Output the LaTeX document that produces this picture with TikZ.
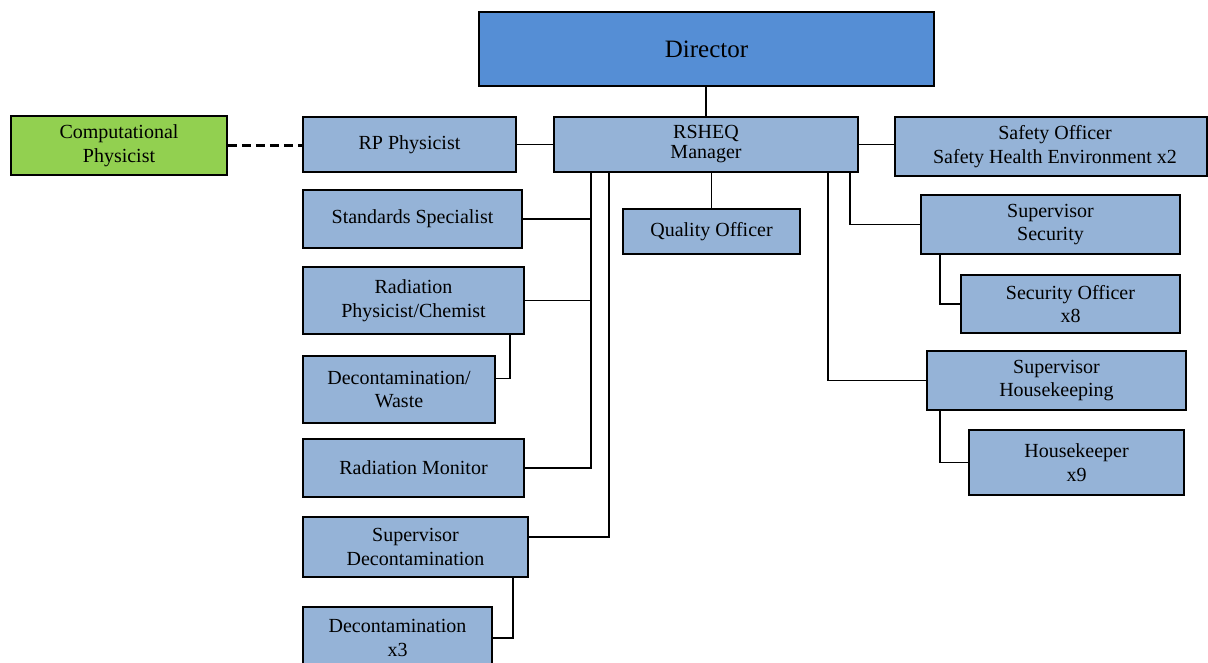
\documentclass[tikz,border=0pt]{standalone}
\usepackage{fontspec}
\setmainfont{Liberation Serif}
\definecolor{dirblue}{RGB}{85,142,213}
\definecolor{boxblue}{RGB}{149,179,215}
\definecolor{boxgreen}{RGB}{146,208,80}
\begin{document}
\begin{tikzpicture}[x=1pt,y=-1pt,
  box/.style={draw=black, line width=1.8pt, fill=boxblue, rectangle, inner sep=0pt, align=center,
    font=\fontsize{20}{23.5}\selectfont},
  link/.style={draw=black, line width=1.8pt}]
\useasboundingbox (0,0) rectangle (1208,663);
\clip (0,0) rectangle (1208,663);
\node[box, fill=dirblue, minimum width=455pt, minimum height=74pt, font=\fontsize{25}{28}\selectfont] (dir) at (706.5,49) {Director};
\node[box, minimum width=304pt, minimum height=55pt, font=\fontsize{20}{20}\selectfont] (rsheq) at (706,144.5) {RSHEQ\\Manager};
\node[box, minimum width=213pt, minimum height=55pt] (rp) at (409.5,144.5) {RP Physicist};
\node[box, fill=boxgreen, minimum width=216pt, minimum height=59pt] (comp) at (119,145.5) {Computational\\Physicist};
\node[box, minimum width=312pt, minimum height=59pt] (safety) at (1051,146.5) {\hspace*{8pt}Safety Officer\\\hspace*{8pt}Safety Health Environment x2};
\node[box, minimum width=219pt, minimum height=58pt] (std) at (412.5,219) {Standards Specialist};
\node[box, minimum width=177pt, minimum height=45pt] (quality) at (711.5,231.5) {Quality Officer};
\node[box, minimum width=221pt, minimum height=67pt] (radphys) at (413.5,300.5) {Radiation\\Physicist/Chemist};
\node[box, minimum width=192pt, minimum height=67pt] (dwaste) at (399,389.5) {Decontamination/\\Waste};
\node[box, minimum width=221pt, minimum height=58pt] (radmon) at (413.5,468) {Radiation Monitor};
\node[box, minimum width=225pt, minimum height=60pt] (supdecon) at (415.5,547) {Supervisor\\Decontamination};
\node[box, minimum width=189pt, minimum height=62pt] (decon3) at (397.5,638) {Decontamination\\x3};
\node[box, minimum width=259pt, minimum height=59pt] (supsec) at (1050.5,224.5) {Supervisor\\Security};
\node[box, minimum width=219pt, minimum height=58pt] (secoff) at (1070.5,304) {Security Officer\\x8};
\node[box, minimum width=259pt, minimum height=59pt] (suphouse) at (1056.5,380.5) {Supervisor\\Housekeeping};
\node[box, minimum width=215pt, minimum height=65pt] (hk) at (1076.5,462.5) {Housekeeper\\x9};
\coordinate (t1) at (591,0);
\coordinate (t2) at (609,0);
\coordinate (t3) at (828,0);
\coordinate (t4) at (850,0);
\coordinate (s1) at (510,0);
\coordinate (s2) at (513,0);
\coordinate (s3) at (940,0);
\draw[link] (dir.south -| rsheq.north) -- (rsheq.north);
\draw[link] (rp.east) -- (rp.east -| rsheq.west);
\draw[link, dashed, dash pattern=on 9pt off 5pt, line width=2.4pt] (comp.east) -- (comp.east -| rp.west);
\draw[link] (rsheq.east) -- (rsheq.east -| safety.west);
\draw[link] (rsheq.south -| quality.north) -- (quality.north);
\draw[link] (rsheq.south -| t1) |- (radmon.east);
\draw[link] (std.east) -- (std.east -| t1);
\draw[link] (radphys.east) -- (radphys.east -| t1);
\draw[link] (rsheq.south -| t2) |- ([yshift=10pt]supdecon.east);
\draw[link] (rsheq.south -| t3) |- (suphouse.west);
\draw[link] (rsheq.south -| t4) |- (supsec.west);
\draw[link] (radphys.south -| s1) |- ([yshift=11pt]dwaste.east);
\draw[link] (supdecon.south -| s2) |- (decon3.east);
\draw[link] (supsec.south -| s3) |- (secoff.west);
\draw[link] (suphouse.south -| s3) |- (hk.west);
\end{tikzpicture}
\end{document}
